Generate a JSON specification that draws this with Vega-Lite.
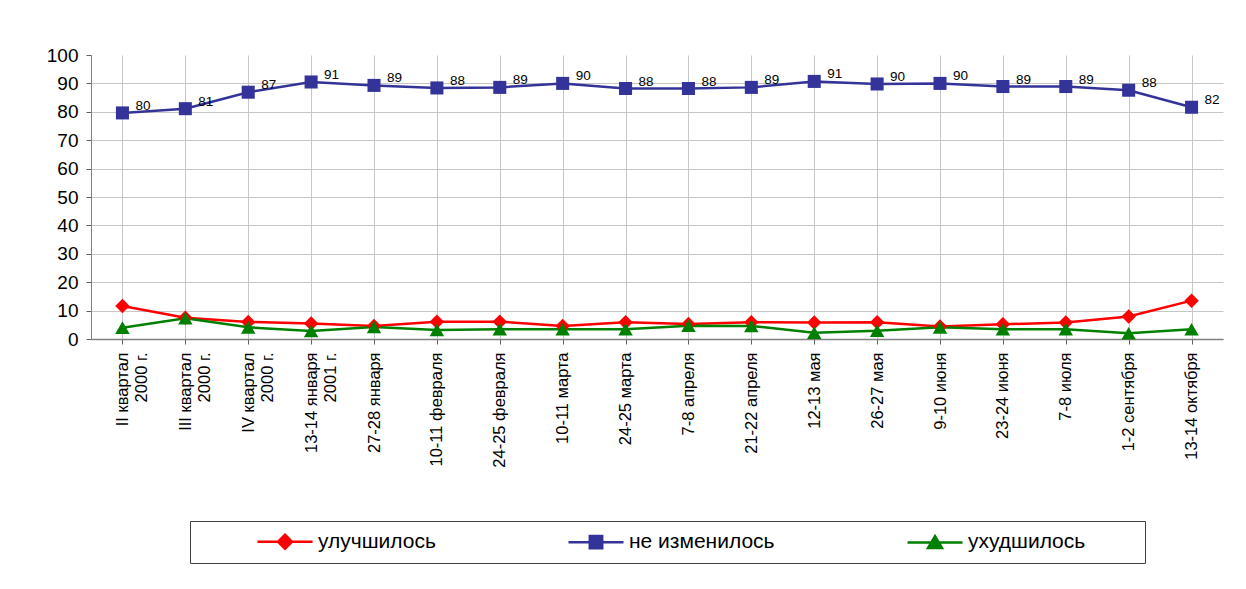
{
  "$schema": "https://vega.github.io/schema/vega-lite/v6.json",
  "width": 1132,
  "height": 284,
  "autosize": "none",
  "padding": {"left": 91, "top": 55, "right": 23, "bottom": 250},
  "background": "white",
  "config": {"view": {"stroke": null}, "font": "Liberation Sans"},
  "data": {"values": [
    {"date": "II квартал\n2000 г.", "series": "улучшилось", "value": 11.6},
    {"date": "III квартал\n2000 г.", "series": "улучшилось", "value": 7.5},
    {"date": "IV квартал\n2000 г.", "series": "улучшилось", "value": 6.0},
    {"date": "13-14 января\n2001 г.", "series": "улучшилось", "value": 5.5},
    {"date": "27-28 января", "series": "улучшилось", "value": 4.6},
    {"date": "10-11 февраля", "series": "улучшилось", "value": 6.1},
    {"date": "24-25 февраля", "series": "улучшилось", "value": 6.1},
    {"date": "10-11 марта", "series": "улучшилось", "value": 4.6},
    {"date": "24-25 марта", "series": "улучшилось", "value": 5.9},
    {"date": "7-8 апреля", "series": "улучшилось", "value": 5.3},
    {"date": "21-22 апреля", "series": "улучшилось", "value": 5.9},
    {"date": "12-13 мая", "series": "улучшилось", "value": 5.8},
    {"date": "26-27 мая", "series": "улучшилось", "value": 5.9},
    {"date": "9-10 июня", "series": "улучшилось", "value": 4.4},
    {"date": "23-24 июня", "series": "улучшилось", "value": 5.2},
    {"date": "7-8 июля", "series": "улучшилось", "value": 5.8},
    {"date": "1-2 сентября", "series": "улучшилось", "value": 7.9},
    {"date": "13-14 октября", "series": "улучшилось", "value": 13.5},
    {"date": "II квартал\n2000 г.", "series": "не изменилось", "value": 79.6},
    {"date": "III квартал\n2000 г.", "series": "не изменилось", "value": 81.1},
    {"date": "IV квартал\n2000 г.", "series": "не изменилось", "value": 86.9},
    {"date": "13-14 января\n2001 г.", "series": "не изменилось", "value": 90.5},
    {"date": "27-28 января", "series": "не изменилось", "value": 89.3},
    {"date": "10-11 февраля", "series": "не изменилось", "value": 88.4},
    {"date": "24-25 февраля", "series": "не изменилось", "value": 88.6},
    {"date": "10-11 марта", "series": "не изменилось", "value": 90.0},
    {"date": "24-25 марта", "series": "не изменилось", "value": 88.2},
    {"date": "7-8 апреля", "series": "не изменилось", "value": 88.2},
    {"date": "21-22 апреля", "series": "не изменилось", "value": 88.6},
    {"date": "12-13 мая", "series": "не изменилось", "value": 90.7},
    {"date": "26-27 мая", "series": "не изменилось", "value": 89.8},
    {"date": "9-10 июня", "series": "не изменилось", "value": 90.0},
    {"date": "23-24 июня", "series": "не изменилось", "value": 88.9},
    {"date": "7-8 июля", "series": "не изменилось", "value": 88.9},
    {"date": "1-2 сентября", "series": "не изменилось", "value": 87.6},
    {"date": "13-14 октября", "series": "не изменилось", "value": 81.6},
    {"date": "II квартал\n2000 г.", "series": "ухудшилось", "value": 4.0},
    {"date": "III квартал\n2000 г.", "series": "ухудшилось", "value": 7.3},
    {"date": "IV квартал\n2000 г.", "series": "ухудшилось", "value": 4.1},
    {"date": "13-14 января\n2001 г.", "series": "ухудшилось", "value": 2.8},
    {"date": "27-28 января", "series": "ухудшилось", "value": 4.2},
    {"date": "10-11 февраля", "series": "ухудшилось", "value": 3.2},
    {"date": "24-25 февраля", "series": "ухудшилось", "value": 3.4},
    {"date": "10-11 марта", "series": "ухудшилось", "value": 3.4},
    {"date": "24-25 марта", "series": "ухудшилось", "value": 3.4},
    {"date": "7-8 апреля", "series": "ухудшилось", "value": 4.7},
    {"date": "21-22 апреля", "series": "ухудшилось", "value": 4.6},
    {"date": "12-13 мая", "series": "ухудшилось", "value": 2.2},
    {"date": "26-27 мая", "series": "ухудшилось", "value": 2.9},
    {"date": "9-10 июня", "series": "ухудшилось", "value": 4.1},
    {"date": "23-24 июня", "series": "ухудшилось", "value": 3.4},
    {"date": "7-8 июля", "series": "ухудшилось", "value": 3.4},
    {"date": "1-2 сентября", "series": "ухудшилось", "value": 2.0},
    {"date": "13-14 октября", "series": "ухудшилось", "value": 3.4}
  ]},
  "encoding": {
    "x": {
      "field": "date", "type": "nominal", "sort": null,
      "scale": {"paddingInner": 0, "paddingOuter": 0},
      "axis": {
        "title": null, "labelAngle": 270, "labelAlign": "right", "labelBaseline": "middle",
        "labelExpr": "split(datum.label, '\\n')", "labelLineHeight": 19,
        "labelFontSize": 16.5, "labelColor": "black", "labelPadding": 8, "labelLimit": 300,
        "bandPosition": 0, "grid": true, "gridColor": "#c6c6c6", "gridWidth": 1,
        "tickSize": 5, "tickColor": "#606060", "domainColor": "#808080", "domainWidth": 1.5
      }
    },
    "y": {
      "field": "value", "type": "quantitative",
      "scale": {"domain": [0, 100], "nice": false},
      "axis": {
        "title": null, "values": [0, 10, 20, 30, 40, 50, 60, 70, 80, 90, 100],
        "labelFontSize": 19, "labelColor": "black", "labelPadding": 8,
        "grid": true, "gridColor": "#c6c6c6",
        "gridOpacity": {"condition": {"test": "datum.value === 100", "value": 0}, "value": 1},
        "tickSize": 5, "tickColor": "#606060", "domainColor": "#808080"
      }
    }
  },
  "layer": [
    {
      "mark": {"type": "line", "strokeWidth": 2.5},
      "encoding": {
        "color": {
          "field": "series", "type": "nominal",
          "scale": {"domain": ["улучшилось", "не изменилось", "ухудшилось"], "range": ["#ff0000", "#333399", "#008000"]},
          "legend": {
            "orient": "none", "legendX": 99, "legendY": 466, "direction": "horizontal",
            "title": "\u00a0", "titleOrient": "right", "titlePadding": 51, "titleFontSize": 10,
            "padding": 9, "strokeColor": "#404040", "fillColor": "white",
            "symbolSize": 400, "symbolOffset": 74.5, "labelOffset": 21.5, "columnPadding": 74,
            "labelFontSize": 21, "labelColor": "black", "labelLimit": 400, "labelFont": "Liberation Sans",
            "encode": {
              "symbols": {
                "update": {
                  "shape": {"signal": "datum.value === 'улучшилось' ? 'M-2.75,0H2.75M0,-0.7L0.7,0L0,0.7L-0.7,0Z' : datum.value === 'не изменилось' ? 'M-2.75,0H2.75M-0.62,-0.62H0.62V0.62H-0.62Z' : 'M-2.75,0H2.75M0,-0.62L0.7,0.56L-0.7,0.56Z'"},
                  "fill": {"signal": "datum.value === 'улучшилось' ? '#ff0000' : datum.value === 'не изменилось' ? '#333399' : '#008000'"},
                  "stroke": {"signal": "datum.value === 'улучшилось' ? '#ff0000' : datum.value === 'не изменилось' ? '#333399' : '#008000'"},
                  "strokeWidth": {"value": 2.5},
                  "opacity": {"value": 1},
                  "fillOpacity": {"value": 1},
                  "strokeOpacity": {"value": 1}
                }
              }
            }
          }
        }
      }
    },
    {
      "transform": [{"filter": "datum.series === 'улучшилось'"}],
      "mark": {"type": "point", "shape": "diamond", "filled": true, "opacity": 1, "color": "#ff0000", "size": 210}
    },
    {
      "transform": [{"filter": "datum.series === 'не изменилось'"}],
      "mark": {"type": "point", "shape": "square", "filled": true, "opacity": 1, "color": "#333399", "size": 170}
    },
    {
      "transform": [{"filter": "datum.series === 'ухудшилось'"}],
      "mark": {"type": "point", "shape": "triangle-up", "filled": true, "opacity": 1, "color": "#008000", "size": 210}
    },
    {
      "transform": [{"filter": "datum.series === 'не изменилось'"}],
      "mark": {"type": "text", "align": "left", "baseline": "middle", "dx": 13, "dy": -7, "fontSize": 13.5, "color": "black"},
      "encoding": {"text": {"field": "value", "type": "quantitative", "format": ".0f"}}
    }
  ]
}
